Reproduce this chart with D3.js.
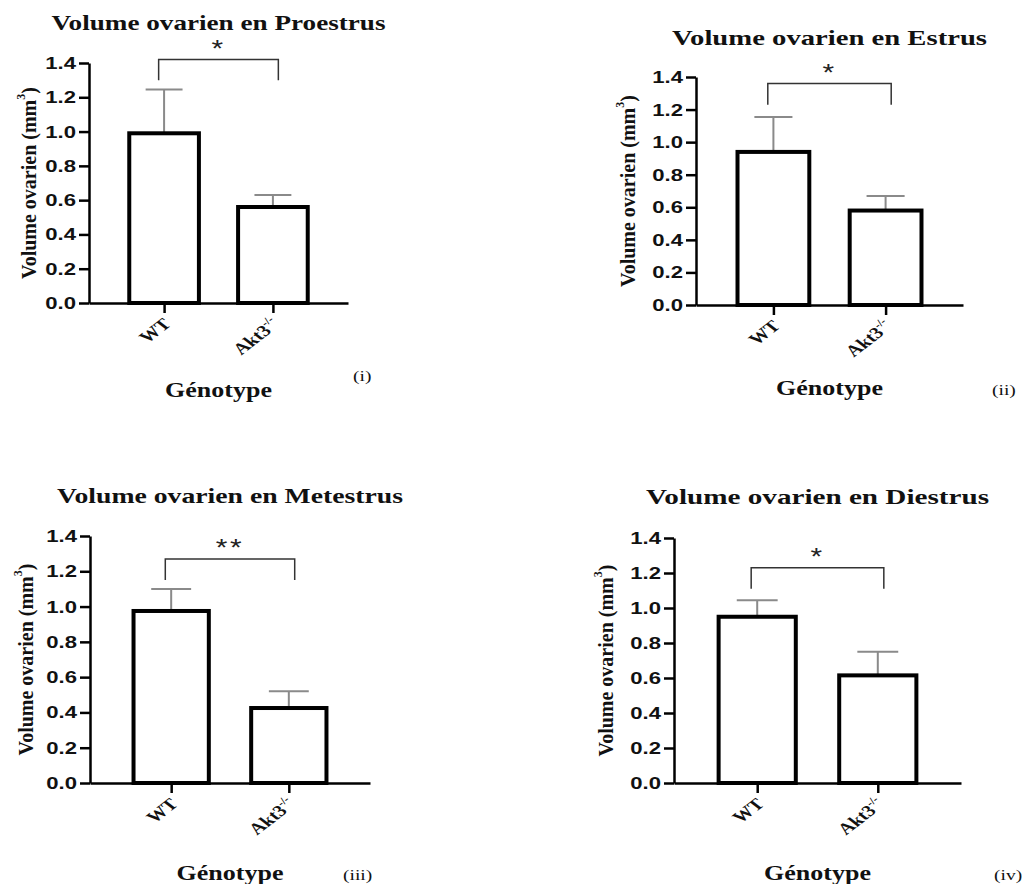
<!DOCTYPE html>
<html><head><meta charset="utf-8">
<script src="https://cdn.jsdelivr.net/npm/d3@7"></script>
<style>
html,body{margin:0;padding:0;background:#fff;}
svg{display:block;}
</style></head><body>
<svg id="chart" width="1026" height="884"></svg>
<script>
// ---------- data ----------
const phases = ["Proestrus", "Estrus", "Metestrus", "Diestrus"];
const categories = ["WT", "Akt3"];
const categorySup = ["", "-/-"];
const meanWT  = [0.99, 0.94, 0.975, 0.95];
const semWT   = [0.255, 0.215, 0.125, 0.095];
const meanAkt = [0.56, 0.58, 0.425, 0.615];
const semAkt  = [0.07, 0.09, 0.095, 0.135];
const significance = ["*", "*", "**", "*"];
const bracketTop = [1.42, 1.36, 1.27, 1.23];
const bracketLeg = [1.30, 1.23, 1.15, 1.11];
const yTicks = [0, 0.2, 0.4, 0.6, 0.8, 1.0, 1.2, 1.4];
const panelLabels = ["(i)", "(ii)", "(iii)", "(iv)"];
const titlePrefix = "Volume ovarien en ";
const yTitle = "Volume ovarien (mm";
const yTitleSup = "3";
const xTitle = "Génotype";

// ---------- layout (pixels) ----------
const layout = [
  {left: 89,  right: 348, top: 63,  bottom: 303, titleY: 30,  titleW: 334, xTitleY: 397, tag: [353, 381], yTitleX: 29},
  {left: 696, right: 963, top: 77,  bottom: 305, titleY: 45,  titleW: 315, xTitleY: 395, tag: [992, 395], yTitleX: 628},
  {left: 90,  right: 370, top: 536, bottom: 783, titleY: 503, titleW: 346, xTitleY: 880, tag: [343, 880], yTitleX: 26},
  {left: 674, right: 961, top: 538, bottom: 783, titleY: 504, titleW: 343, xTitleY: 880, tag: [994, 880], yTitleX: 606}
];
const SX = 1.3;
const SERIF = "'Liberation Serif','Times New Roman',serif";
const SANS = "'Liberation Sans',Arial,sans-serif";

const svg = d3.select("#chart");
svg.append("rect").attr("width", 1026).attr("height", 884).attr("fill", "#fff");

phases.forEach((phase, i) => {
  const L = layout[i];
  const g = svg.append("g");
  const y = d3.scaleLinear().domain([0, 1.4]).range([L.bottom, L.top]);
  const x = d3.scalePoint().domain(categories).range([L.left, L.right]).padding(0.69);
  const bw = x.step() * 0.64;
  const capW = bw * 0.53;
  const rows = categories.map((c, k) => ({
    cat: c,
    mean: [meanWT[i], meanAkt[i]][k],
    sem: [semWT[i], semAkt[i]][k]
  }));

  // error bars (upper only)
  g.selectAll("path.err").data(rows).join("path").attr("class", "err")
    .attr("d", d => `M${x(d.cat)},${y(d.mean)}V${y(d.mean + d.sem)}M${x(d.cat) - capW / 2},${y(d.mean + d.sem)}H${x(d.cat) + capW / 2}`)
    .attr("stroke", "#8a8a8a").attr("stroke-width", 2).attr("fill", "none");

  // bars
  g.selectAll("rect.bar").data(rows).join("rect").attr("class", "bar")
    .attr("x", d => x(d.cat) - bw / 2)
    .attr("y", d => y(d.mean))
    .attr("width", bw)
    .attr("height", d => y(0) - y(d.mean))
    .attr("fill", "#fff").attr("stroke", "#000").attr("stroke-width", 4);

  // y axis
  const ya = g.append("g").attr("transform", `translate(${L.left},0)`)
    .call(d3.axisLeft(y).tickValues(yTicks).tickFormat(d3.format(".1f")).tickSize(10).tickSizeOuter(0));
  ya.attr("font-family", null).attr("font-size", null);
  ya.select(".domain").attr("stroke", "#000").attr("stroke-width", 2.5);
  ya.selectAll(".tick line").attr("stroke", "#000").attr("stroke-width", 2.5);
  ya.selectAll(".tick text")
    .attr("x", 0)
    .attr("transform", `translate(-13,0) scale(${SX},1)`)
    .attr("fill", "#111")
    .style("font-family", SANS).style("font-weight", "bold").style("font-size", "17px");

  // x axis
  const xa = g.append("g").attr("transform", `translate(0,${L.bottom})`)
    .call(d3.axisBottom(x).tickSize(10).tickSizeOuter(0).tickFormat(""));
  xa.select(".domain").attr("stroke", "#000").attr("stroke-width", 2.5);
  xa.selectAll(".tick line").attr("stroke", "#000").attr("stroke-width", 2.5);

  // x tick labels (rotated)
  const xl = g.selectAll("text.xlab").data(categories).join("text").attr("class", "xlab")
    .attr("transform", c => `translate(${x(c) + 8},${L.bottom + 22}) scale(${SX},1) rotate(-45)`)
    .attr("text-anchor", "end")
    .style("font-family", SERIF).style("font-weight", "bold").style("font-size", "16px").attr("fill", "#111");
  xl.append("tspan").text(c => c);
  xl.filter((c, k) => categorySup[k]).append("tspan")
    .attr("dy", -7).style("font-size", "10px")
    .text(c => categorySup[categories.indexOf(c)]);

  // significance bracket
  const bx1 = x(categories[0]) - x.step() * 0.05;
  const bx2 = x(categories[1]) + x.step() * 0.05;
  g.append("path")
    .attr("d", `M${bx1},${y(bracketLeg[i])}V${y(bracketTop[i])}H${bx2}V${y(bracketLeg[i])}`)
    .attr("fill", "none").attr("stroke", "#333").attr("stroke-width", 1.5);
  g.append("text")
    .attr("transform", `translate(${(bx1 + bx2) / 2},${y(bracketTop[i]) - 3}) scale(${SX},1)`)
    .attr("text-anchor", "middle")
    .style("font-family", SANS).style("font-size", "23px").style("letter-spacing", "2px").attr("fill", "#222")
    .text(significance[i]);

  // title
  g.append("text")
    .attr("x", (L.left + L.right) / 2).attr("y", L.titleY)
    .attr("text-anchor", "middle")
    .attr("textLength", L.titleW).attr("lengthAdjust", "spacingAndGlyphs")
    .style("font-family", SERIF).style("font-weight", "bold").style("font-size", "22px").attr("fill", "#111")
    .text(titlePrefix + phase);

  // y title
  const yt = g.append("text")
    .attr("transform", `translate(${L.yTitleX},${(L.top + L.bottom) / 2}) rotate(-90)`)
    .attr("text-anchor", "middle").attr("dominant-baseline", "central")
    .style("font-family", SERIF).style("font-weight", "bold").style("font-size", "20px").attr("fill", "#111");
  yt.append("tspan").text(yTitle);
  yt.append("tspan").attr("dy", -8).style("font-size", "12px").text(yTitleSup);
  yt.append("tspan").attr("dy", 8).text(")");

  // x title
  g.append("text")
    .attr("transform", `translate(${(L.left + L.right) / 2},${L.xTitleY}) scale(${SX},1)`)
    .attr("text-anchor", "middle")
    .style("font-family", SERIF).style("font-weight", "bold").style("font-size", "20px").attr("fill", "#111")
    .text(xTitle);

  // panel tag
  g.append("text")
    .attr("transform", `translate(${L.tag[0]},${L.tag[1]}) scale(${SX},1)`)
    .style("font-family", SERIF).style("font-size", "15px").attr("fill", "#111")
    .text(panelLabels[i]);
});
</script>
</body></html>
